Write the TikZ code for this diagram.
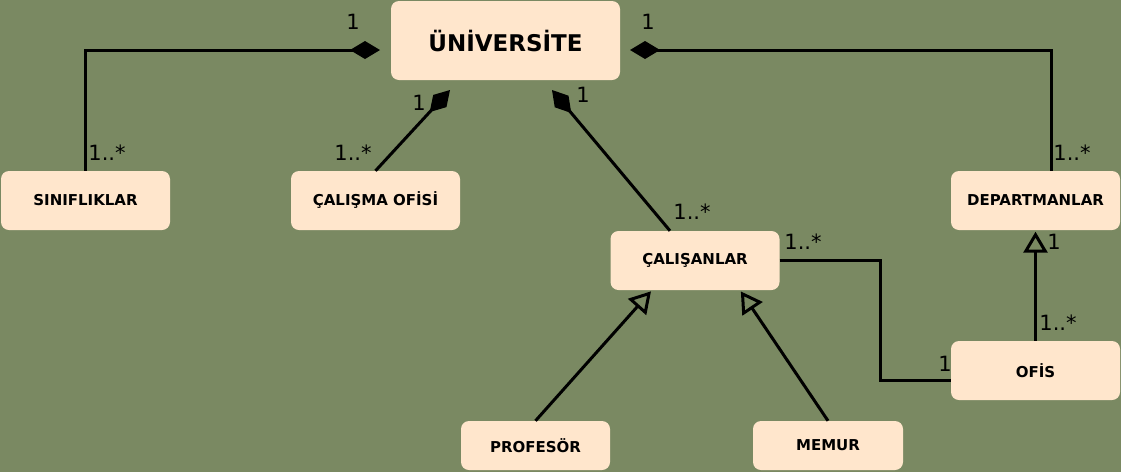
\documentclass[tikz,border=0pt]{standalone}
\usepackage{fontspec}
\setmainfont{DejaVu Sans}
\usetikzlibrary{arrows.meta}
\definecolor{bg}{RGB}{122,137,98}
\definecolor{boxfill}{RGB}{255,230,204}
\tikzset{
  cls/.style={fill=boxfill, rounded corners=8pt, minimum width=169pt, minimum height=59pt, inner sep=0pt, font=\bfseries\fontsize{15}{17}\selectfont},
  conn/.style={line width=3pt, draw=black},
  comp/.style={conn, -{Diamond[length=30pt,width=18pt,fill=black]}},
  gen/.style={conn, -{Triangle[open,fill=bg,length=21pt,width=24pt,line width=3pt]}},
  mult/.style={font=\fontsize{21}{23}\selectfont, inner sep=0pt}
}
\begin{document}
\begin{tikzpicture}[x=1pt,y=-1pt]
\useasboundingbox[fill=bg] (0,0) rectangle (1121,472);
\node[cls, minimum width=229pt, minimum height=79pt, font=\bfseries\fontsize{23}{26}\selectfont] (uni) at (505.5,40.5) {ÜNİVERSİTE};
\node[cls] (sin) at (85.5,200.5) {SINIFLIKLAR};
\node[cls] (cof) at (375.5,200.5) {ÇALIŞMA OFİSİ};
\node[cls] (dep) at (1035.5,200.5) {DEPARTMANLAR};
\node[cls] (cal) at (695,260.5) {ÇALIŞANLAR};
\node[cls] (ofis) at (1035.5,370.5) {OFİS};
\node[cls, minimum width=149pt, minimum height=49pt] (prof) at (535.5,445.5) {PROFESÖR};
\node[cls, minimum width=150pt, minimum height=49pt] (mem) at (828,445.5) {MEMUR};

\coordinate (uL) at (380,50);
\coordinate (uR) at (630,50);
\coordinate (uB1) at (450,90);
\coordinate (uB2) at (552,90);

\draw[comp] (sin.north) |- (uL);
\draw[comp] ([xshift=15.5pt]dep.north) |- (uR);
\draw[comp] (cof.north) -- (uB1);
\draw[comp] ([xshift=-25pt]cal.north) -- (uB2);

\draw[gen, shorten >=1.5pt] (prof.north) -- ([xshift=-43pt]cal.south);
\draw[gen, shorten >=1.5pt] (mem.north) -- ([xshift=45pt]cal.south);
\draw[gen, shorten >=1.5pt] (ofis.north) -- (dep.south);

\draw[conn] (cal.east) -| (880,380) -- (ofis.west |- 0,380);

\node[mult] (m1) at (353,22) {1};
\node[mult] (m2) at (648,22) {1};
\node[mult] (m3) at (419,103) {1};
\node[mult] (m4) at (583,95) {1};
\node[mult] (m5) at (107,153) {1..*};
\node[mult] (m6) at (353,153) {1..*};
\node[mult] (m7) at (692,212) {1..*};
\node[mult] (m8) at (1072,153) {1..*};
\node[mult] (m9) at (803,242) {1..*};
\node[mult] (m10) at (945,364) {1};
\node[mult] (m11) at (1054,242) {1};
\node[mult] (m12) at (1058,323) {1..*};
\end{tikzpicture}
\end{document}
